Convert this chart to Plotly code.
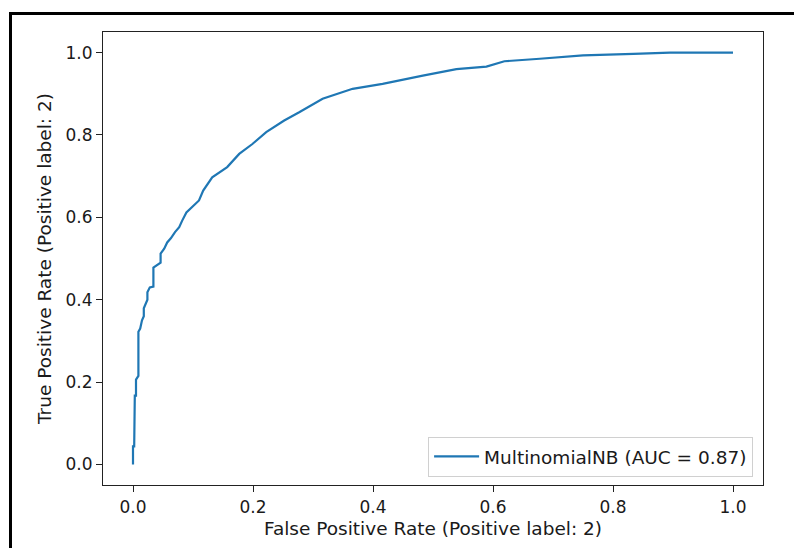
import plotly.graph_objects as go

# ROC curve points (MultinomialNB)
fpr = [0.000, 0.000, 0.002, 0.002, 0.003, 0.003, 0.005, 0.005, 0.009, 0.009,
       0.012, 0.015, 0.018, 0.018, 0.024, 0.024, 0.028, 0.034, 0.034, 0.039,
       0.046, 0.046, 0.052, 0.057, 0.063, 0.070, 0.077, 0.082, 0.089, 0.110,
       0.117, 0.132, 0.144, 0.157, 0.177, 0.199, 0.222, 0.252, 0.277, 0.316,
       0.366, 0.416, 0.483, 0.539, 0.589, 0.619, 0.678, 0.750, 0.834, 0.895,
       1.000]
tpr = [0.000, 0.044, 0.044, 0.107, 0.107, 0.167, 0.167, 0.206, 0.215, 0.322,
       0.330, 0.350, 0.360, 0.379, 0.400, 0.418, 0.430, 0.432, 0.478, 0.483,
       0.490, 0.512, 0.524, 0.539, 0.549, 0.564, 0.576, 0.592, 0.612, 0.641,
       0.665, 0.697, 0.709, 0.722, 0.754, 0.778, 0.807, 0.835, 0.855, 0.888,
       0.912, 0.924, 0.944, 0.960, 0.966, 0.979, 0.985, 0.993, 0.997, 1.000,
       1.000]
series_name = "MultinomialNB (AUC = 0.87)"
x_title = "False Positive Rate (Positive label: 2)"
y_title = "True Positive Rate (Positive label: 2)"
tick_vals = [0.0, 0.2, 0.4, 0.6, 0.8, 1.0]
tick_text = ["0.0", "0.2", "0.4", "0.6", "0.8", "1.0"]

FONT = "DejaVu Sans"
TXT = "#1a1a1a"

fig = go.Figure()
fig.add_trace(go.Scatter(x=fpr, y=tpr, mode="lines", name=series_name,
                         line=dict(color="#1f77b4", width=2.2),
                         showlegend=True))

axis_common = dict(range=[-0.05, 1.05], tickvals=tick_vals, ticktext=tick_text,
                   showgrid=False, zeroline=False, showline=True, mirror=True,
                   linecolor="#222", linewidth=1.2, ticks="outside", ticklen=6,
                   tickwidth=1.2, tickcolor="#222",
                   tickfont=dict(family=FONT, size=17, color=TXT))

fig.update_xaxes(**axis_common,
                 title=dict(text=x_title, font=dict(family=FONT, size=18.5, color=TXT), standoff=6))
fig.update_yaxes(**axis_common,
                 title=dict(text=y_title, font=dict(family=FONT, size=18.5, color=TXT), standoff=8))

# outer black frame (top and left edges)
PW, PH = 660, 453  # plot area size
fig.add_shape(type="line", xref="paper", yref="paper",
              x0=(1 - 95) / PW, x1=1.2, y0=(477 - 5.5) / PH, y1=(477 - 5.5) / PH,
              line=dict(color="black", width=3))
fig.add_shape(type="line", xref="paper", yref="paper",
              x0=(2.5 - 95) / PW, x1=(2.5 - 95) / PW, y0=(477 - 4) / PH, y1=-0.2,
              line=dict(color="black", width=3))

fig.update_layout(
    width=794, height=540,
    margin=dict(l=95, r=39, t=24, b=63),
    paper_bgcolor="white", plot_bgcolor="white",
    font=dict(family=FONT, size=17, color=TXT),
    legend=dict(x=0.985, y=0.018, xanchor="right", yanchor="bottom",
                bgcolor="rgba(255,255,255,0.8)", bordercolor="#d0d0d0", borderwidth=1,
                itemwidth=45,
                font=dict(family=FONT, size=18.5, color=TXT)),
    showlegend=True,
)

fig.write_html("out.html")
